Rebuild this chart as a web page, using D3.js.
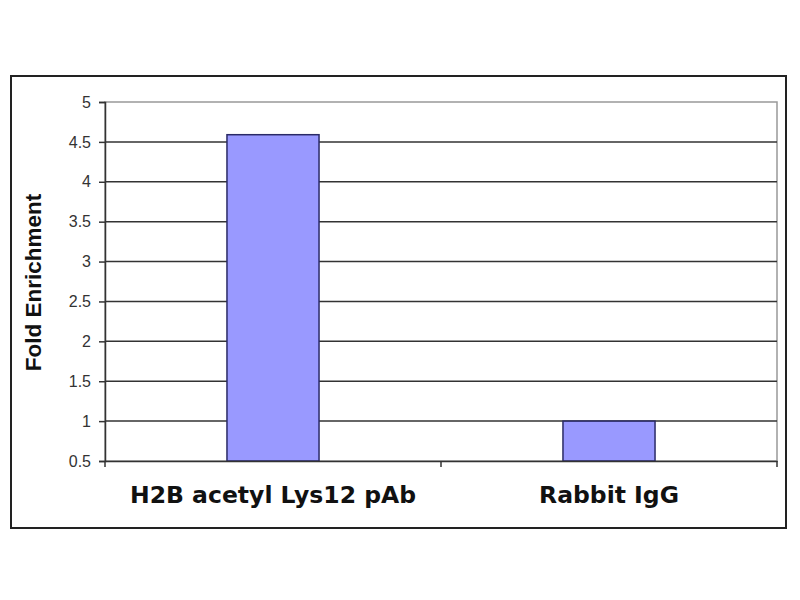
<!DOCTYPE html>
<html><head><meta charset="utf-8">
<script src="https://cdn.jsdelivr.net/npm/d3@7"></script>
<style>body{margin:0;background:#fff}</style>
</head><body>
<script>
const categories = ["H2B acetyl Lys12 pAb", "Rabbit IgG"];
const values = [4.59, 1.0];
const yTicks = [0.5, 1, 1.5, 2, 2.5, 3, 3.5, 4, 4.5, 5];
const yTitle = "Fold Enrichment";

const W = 800, H = 600;
const svg = d3.select("body").append("svg").attr("width", W).attr("height", H);
svg.append("rect").attr("width", W).attr("height", H).attr("fill", "#fff");

// outer chart border
svg.append("rect").attr("x", 11).attr("y", 76).attr("width", 775).attr("height", 452)
  .attr("fill", "none").attr("stroke", "#222").attr("stroke-width", 2);

const m = {left: 105, top: 102, right: 777, bottom: 461};
const x = d3.scaleBand().domain(categories).range([m.left, m.right]).paddingInner(0.726).paddingOuter(0.363);
const y = d3.scaleLinear().domain([0.5, 5]).range([m.bottom, m.top]);

// plot area border (gray)
svg.append("rect").attr("x", m.left).attr("y", m.top).attr("width", m.right - m.left).attr("height", m.bottom - m.top)
  .attr("fill", "none").attr("stroke", "#999").attr("stroke-width", 1.5);

// gridlines
svg.append("g").selectAll("line").data(yTicks.filter(d => d > 0.5 && d < 5)).join("line")
  .attr("x1", m.left).attr("x2", m.right)
  .attr("y1", d => y(d)).attr("y2", d => y(d))
  .attr("stroke", "#333").attr("stroke-width", 1.5);

// bars
svg.append("g").selectAll("rect").data(categories).join("rect")
  .attr("x", d => x(d)).attr("width", x.bandwidth())
  .attr("y", (d, i) => y(values[i])).attr("height", (d, i) => y(0.5) - y(values[i]))
  .attr("fill", "#9999ff").attr("stroke", "#2a2a66").attr("stroke-width", 1.5);

// y axis
const yAxis = svg.append("g").attr("transform", `translate(${m.left},0)`)
  .call(d3.axisLeft(y).tickValues(yTicks).tickSize(6).tickPadding(8).tickFormat(d3.format("")));
yAxis.select(".domain").attr("stroke", "#333").attr("stroke-width", 1.5);
yAxis.selectAll(".tick line").attr("stroke", "#333").attr("stroke-width", 1.5);
yAxis.selectAll("text").attr("font-family", "Liberation Sans, Arial, sans-serif").attr("font-size", 16).attr("fill", "#333");

// x axis
const xAxis = svg.append("g").attr("transform", `translate(0,${m.bottom})`)
  .call(d3.axisBottom(x).tickSize(0));
xAxis.select(".domain").attr("stroke", "#333").attr("stroke-width", 1.5);
xAxis.selectAll("text").attr("y", 42).attr("dy", 0)
  .attr("font-family", "DejaVu Sans, Verdana, sans-serif").attr("font-weight", "bold")
  .attr("font-size", 23.5).attr("fill", "#111");
// category boundary ticks
const bounds = [m.left, (m.left + m.right) / 2, m.right];
svg.append("g").selectAll("line").data(bounds).join("line")
  .attr("x1", d => d).attr("x2", d => d).attr("y1", m.bottom).attr("y2", m.bottom + 6)
  .attr("stroke", "#333").attr("stroke-width", 1.5);

// y title
svg.append("text").attr("transform", `translate(41,${(m.top + m.bottom) / 2 + 1}) rotate(-90)`)
  .attr("text-anchor", "middle").attr("font-family", "Liberation Sans, Arial, sans-serif")
  .attr("font-weight", "bold").attr("font-size", 22.5).attr("fill", "#111").text(yTitle);
</script>
</body></html>
